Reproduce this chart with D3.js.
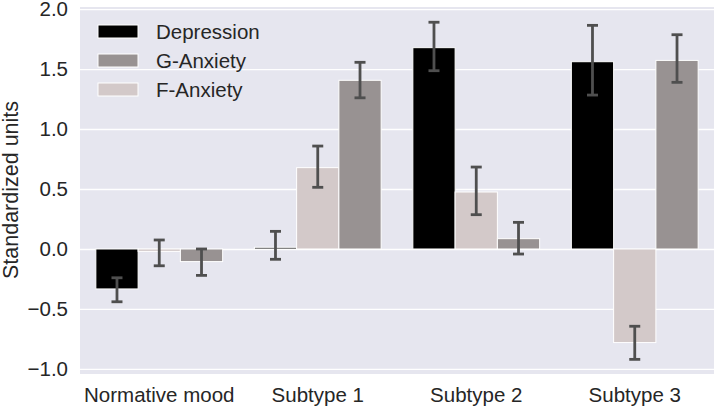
<!DOCTYPE html>
<html><head><meta charset="utf-8">
<script src="https://cdn.jsdelivr.net/npm/d3@7"></script>
<style>body{margin:0;background:#fff;}svg{display:block;font-family:"Liberation Sans",Arial,sans-serif;}</style>
</head><body>
<script>
const categories = ["Normative mood","Subtype 1","Subtype 2","Subtype 3"];
const seriesOrder = ["Depression","F-Anxiety","G-Anxiety"];   // order within each group
const legendOrder = ["Depression","G-Anxiety","F-Anxiety"];
const depression = [-0.333, 0.014, 1.678, 1.561];
const depressionLo = [-0.44, -0.086, 1.486, 1.283];
const depressionHi = [-0.24, 0.147, 1.89, 1.864];
const fAnxiety = [-0.02, 0.678, 0.475, -0.78];
const fAnxietyLo = [-0.14, 0.514, 0.286, -0.92];
const fAnxietyHi = [0.075, 0.858, 0.683, -0.644];
const gAnxiety = [-0.105, 1.406, 0.086, 1.572];
const gAnxietyLo = [-0.22, 1.26, -0.042, 1.389];
const gAnxietyHi = [0.0, 1.556, 0.222, 1.786];
const yTicks = [-1.0,-0.5,0.0,0.5,1.0,1.5,2.0];
const yLabel = "Standardized units";

const colors = {"Depression":"#000000","G-Anxiety":"#989292","F-Anxiety":"#d3c9c9"};
const seriesData = {
  "Depression": {v:depression, lo:depressionLo, hi:depressionHi},
  "F-Anxiety": {v:fAnxiety, lo:fAnxietyLo, hi:fAnxietyHi},
  "G-Anxiety": {v:gAnxiety, lo:gAnxietyLo, hi:gAnxietyHi}
};

const W=714,H=408;
const m={left:80,right:0,top:7,bottom:34};
const svg=d3.select("body").append("svg").attr("width",W).attr("height",H);
const x=d3.scaleBand().domain(categories).range([m.left,W-m.right]).paddingInner(0.2).paddingOuter(0.1);
const xs=d3.scaleBand().domain(seriesOrder).range([0,x.bandwidth()]);
const y=d3.scaleLinear().domain([-1.042,2.017]).range([H-m.bottom,m.top]);

svg.append("rect").attr("x",m.left).attr("y",m.top).attr("width",W-m.left-m.right).attr("height",H-m.top-m.bottom).attr("fill","#e6e6ef");

const yAxis=svg.append("g").attr("transform",`translate(${m.left},0)`)
  .call(d3.axisLeft(y).tickValues(yTicks).tickFormat(d=>d3.format(".1f")(d).replace("-","\u2212")).tickSize(-(W-m.left-m.right)).tickPadding(12));
yAxis.select(".domain").remove();
yAxis.selectAll(".tick line").attr("stroke","#fff").attr("stroke-width",1.3);
yAxis.selectAll(".tick text").attr("font-size",20.5).attr("fill","#262626").attr("font-family","Liberation Sans,Arial,sans-serif");

const xAxis=svg.append("g").attr("transform",`translate(0,${H-m.bottom})`)
  .call(d3.axisBottom(x).tickSize(0).tickPadding(13));
xAxis.select(".domain").remove();
xAxis.selectAll(".tick text").attr("font-size",20.5).attr("fill","#262626").attr("font-family","Liberation Sans,Arial,sans-serif");

const rows=[];
categories.forEach((c,i)=>seriesOrder.forEach(s=>rows.push({c,s,v:seriesData[s].v[i],lo:seriesData[s].lo[i],hi:seriesData[s].hi[i]})));

svg.append("g").selectAll("rect").data(rows).join("rect")
  .attr("x",d=>x(d.c)+xs(d.s))
  .attr("width",xs.bandwidth())
  .attr("y",d=>y(Math.max(0,d.v)))
  .attr("height",d=>Math.abs(y(d.v)-y(0)))
  .attr("fill",d=>colors[d.s])
  .attr("stroke","#fff").attr("stroke-width",1);

const eg=svg.append("g").attr("stroke","#4f4f4f").attr("stroke-width",2.8);
rows.forEach(d=>{
  const cx=x(d.c)+xs(d.s)+xs.bandwidth()/2;
  eg.append("line").attr("x1",cx).attr("x2",cx).attr("y1",y(d.lo)).attr("y2",y(d.hi));
  eg.append("line").attr("x1",cx-5.5).attr("x2",cx+5.5).attr("y1",y(d.lo)).attr("y2",y(d.lo));
  eg.append("line").attr("x1",cx-5.5).attr("x2",cx+5.5).attr("y1",y(d.hi)).attr("y2",y(d.hi));
});

const lg=svg.append("g");
legendOrder.forEach((s,i)=>{
  const yy=25+i*29;
  lg.append("rect").attr("x",98).attr("y",yy).attr("width",40).attr("height",13).attr("fill",colors[s]).attr("stroke","#fff").attr("stroke-width",1);
  lg.append("text").attr("x",156).attr("y",yy+6.5).attr("dy","0.35em").attr("font-size",20.5).attr("fill","#262626").text(s);
});

svg.append("text").attr("transform",`translate(17.5,190) rotate(-90)`)
  .attr("text-anchor","middle").attr("font-size",21.5).attr("fill","#262626").text(yLabel);
</script>
</body></html>
